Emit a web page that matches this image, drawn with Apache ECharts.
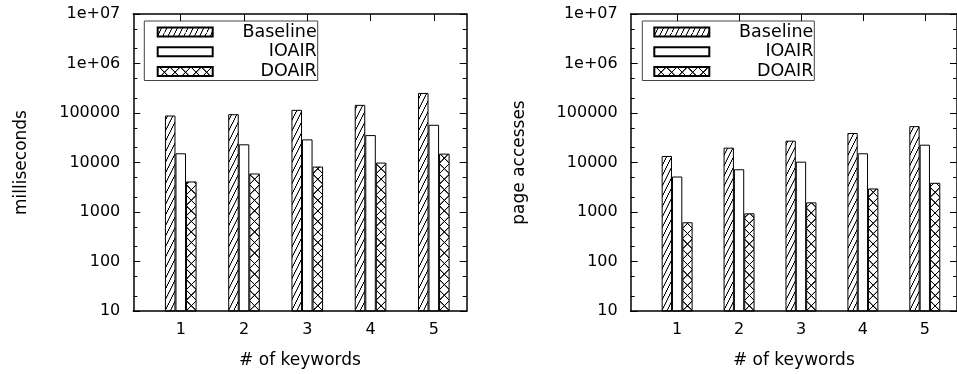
<!DOCTYPE html>
<html>
<head>
<meta charset="utf-8">
<script src="https://cdn.jsdelivr.net/npm/echarts@6/dist/echarts.min.js"></script>
<style>
  html, body { margin: 0; padding: 0; background: #fff; }
  #chart { width: 957px; height: 374px; }
</style>
</head>
<body>
<div id="chart"></div>
<script>
// Number of query keywords (x categories)
const keywordCounts = [1, 2, 3, 4, 5];
const seriesNames = ['Baseline', 'IOAIR', 'DOAIR'];

// Response time in milliseconds
const timeBaseline = [89000, 94600, 115800, 146000, 254000];
const timeIOAIR    = [15350, 23300, 29300, 35800, 57800];
const timeDOAIR    = [4140, 6000, 8280, 9950, 15100];

// Page accesses
const pagesBaseline = [13550, 19950, 27600, 39400, 54300];
const pagesIOAIR    = [5210, 7310, 10400, 15350, 22900];
const pagesDOAIR    = [620, 940, 1565, 2990, 3890];

// Log-scale y ticks
const yTickValues = [10, 100, 1000, 10000, 100000, 1000000, 10000000];
const yTickLabels = ['10', '100', '1000', '10000', '100000', '1e+06', '1e+07'];
const yMinorValues = [20, 50, 200, 500, 2000, 5000, 20000, 50000,
                      200000, 500000, 2000000, 5000000];

const FONT = 'DejaVu Sans';
const X_MIN = 0.25, X_MAX = 5.52;
const Y_MIN = 10, Y_MAX = 10000000;

const panels = [
  { name: 'milliseconds',  series: [timeBaseline, timeIOAIR, timeDOAIR],
    grid: { left: 133.3, top: 14, width: 333.4, height: 298.5 },
    legend: { left: 144.3, padLeft: 12.4 } },
  { name: 'page accesses', series: [pagesBaseline, pagesIOAIR, pagesDOAIR],
    grid: { left: 630.7, top: 14, width: 333.4, height: 298.5 },
    legend: { left: 642.3, padLeft: 11 } }
];

// Fill tiles: diagonal hatch, empty, crosshatch
const TILE = 40;
function makeTile(kind) {
  const c = document.createElement('canvas');
  c.width = c.height = TILE;
  const g = c.getContext('2d');
  g.fillStyle = '#fff';
  g.fillRect(0, 0, TILE, TILE);
  g.strokeStyle = '#000';
  g.lineWidth = 3.6;
  g.beginPath();
  if (kind === 'hatch') {
    for (let k = 0; k <= 3; k++) {
      g.moveTo(0, k * TILE);
      g.lineTo(TILE, k * TILE - 2 * TILE);
    }
  } else if (kind === 'cross') {
    g.moveTo(0, 0); g.lineTo(TILE, TILE);
    g.moveTo(TILE, 0); g.lineTo(0, TILE);
  }
  g.stroke();
  return c;
}
const tiles = [makeTile('hatch'), null, makeTile('cross')];

function fillFor(i, origin) {
  if (!tiles[i]) return '#fff';
  if (!origin) return { image: tiles[i], repeat: 'repeat' };
  const s = origin.bw / TILE;
  return { image: tiles[i], repeat: 'repeat', x: origin.x, y: origin.y, scaleX: s, scaleY: s };
}

const textBase = { color: '#000', fontFamily: FONT };

function buildOption(layouts) {
  const grid = [], xAxis = [], yAxis = [], series = [], legend = [];
  panels.forEach((p, gi) => {
    grid.push(Object.assign({ containLabel: false }, p.grid));
    const axisLine = { show: true, onZero: false, lineStyle: { color: '#000', width: 1.5 } };
    const xCommon = { type: 'value', gridIndex: gi, min: X_MIN, max: X_MAX, z: 10,
                      splitLine: { show: false }, axisLine };
    xAxis.push(Object.assign({}, xCommon, {
      position: 'bottom',
      axisTick: { show: false },
      axisLabel: Object.assign({ customValues: keywordCounts, margin: 11, fontSize: 16 }, textBase),
      name: '# of keywords', nameLocation: 'middle', nameGap: 41,
      nameTextStyle: Object.assign({ fontSize: 17 }, textBase)
    }));
    xAxis.push(Object.assign({}, xCommon, {
      position: 'top',
      axisTick: { inside: true, length: 7, customValues: keywordCounts, lineStyle: { color: '#000' } },
      axisLabel: { show: false }
    }));
    const yLog = { type: 'log', logBase: 10, gridIndex: gi, min: Y_MIN, max: Y_MAX, z: 10,
                   splitLine: { show: false }, axisLine };
    // helper axes for minor ticks, in log10 units
    const yMinor = { type: 'value', gridIndex: gi, min: Math.log10(Y_MIN), max: Math.log10(Y_MAX), z: 10,
                     splitLine: { show: false }, axisLine: { show: false }, axisLabel: { show: false },
                     axisTick: { inside: true, length: 4, customValues: yMinorValues.map(Math.log10),
                                 lineStyle: { color: '#000' } } };
    yAxis.push(Object.assign({}, yLog, {
      position: 'left',
      axisTick: { inside: true, length: 7, lineStyle: { color: '#000' } },
      axisLabel: Object.assign({
        margin: 13, fontSize: 16,
        formatter: v => yTickLabels[yTickValues.indexOf(Math.round(v))] || ''
      }, textBase),
      name: p.name, nameLocation: 'middle', nameGap: 103, nameRotate: 90,
      nameTextStyle: Object.assign({ fontSize: 17 }, textBase)
    }));
    yAxis.push(Object.assign({}, yLog, {
      position: 'right',
      axisTick: { inside: true, length: 7, lineStyle: { color: '#000' } },
      axisLabel: { show: false }
    }));
    yAxis.push(Object.assign({}, yMinor, { position: 'left' }));
    yAxis.push(Object.assign({}, yMinor, { position: 'right' }));

    const lay = layouts ? layouts[gi] : null;
    p.series.forEach((vals, si) => {
      series.push({
        type: 'bar', name: seriesNames[si],
        xAxisIndex: gi * 2, yAxisIndex: gi * 4,
        data: keywordCounts.map((k, j) => [k, vals[j]]),
        barWidth: lay ? lay.bw : 10.5, barGap: '0%',
        clip: true, animation: false,
        itemStyle: {
          color: fillFor(si, lay ? { bw: lay.bw, x: lay.x1 + (si - 1.5) * lay.bw, y: lay.yBase } : null),
          borderColor: '#000', borderWidth: 1
        },
        emphasis: { disabled: true }
      });
    });

    legend.push({
      left: p.legend.left, top: 21, orient: 'vertical',
      itemWidth: 55, itemHeight: 9, itemGap: 1.75,
      padding: [2, 1, 0, p.legend.padLeft],
      borderColor: '#444', borderWidth: 1, borderRadius: 0,
      icon: 'rect', selectedMode: false,
      data: seriesNames,
      formatter: n => '{t|' + n + '}',
      textStyle: { rich: { t: Object.assign({ width: 99, align: 'right', fontSize: 17.5, lineHeight: 18 }, textBase) } }
    });
  });
  return { animation: false, backgroundColor: '#fff', grid, xAxis, yAxis, series, legend };
}

const chart = echarts.init(document.getElementById('chart'), null, { renderer: 'canvas' });
chart.setOption(buildOption(null));

// Align the fill tiles with the bars once the axes are laid out
const layouts = panels.map((p, gi) => {
  const x1 = chart.convertToPixel({ xAxisIndex: gi * 2 }, keywordCounts[0]);
  const x2 = chart.convertToPixel({ xAxisIndex: gi * 2 }, keywordCounts[1]);
  const yBase = chart.convertToPixel({ yAxisIndex: gi * 4 }, Y_MIN);
  return { x1, bw: (x2 - x1) / 6, yBase };
});
chart.setOption(buildOption(layouts), true);
</script>
</body>
</html>
